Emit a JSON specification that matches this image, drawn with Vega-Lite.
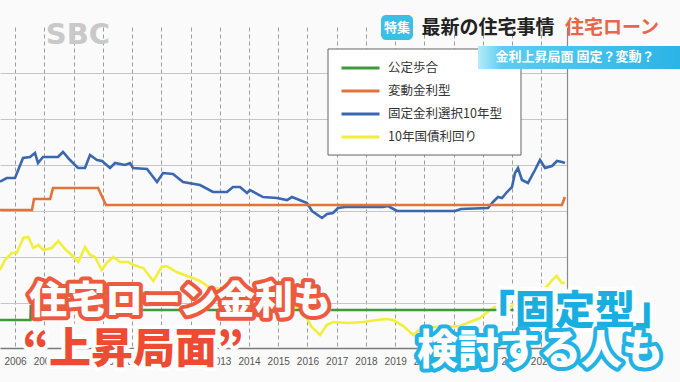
{
  "$schema": "https://vega.github.io/schema/vega-lite/v6.json",
  "width": 567,
  "height": 321,
  "autosize": {"type": "none"},
  "padding": {"left": 0, "top": 27, "right": 113, "bottom": 34},
  "background": "#fafafa",
  "config": {"view": {"stroke": null}},
  "datasets": {
    "rates": [
      {"series": "10年国債利回り", "year": 2005.487, "rate": 1.117},
      {"series": "10年国債利回り", "year": 2005.658, "rate": 1.335},
      {"series": "10年国債利回り", "year": 2005.887, "rate": 1.487},
      {"series": "10年国債利回り", "year": 2006.058, "rate": 1.487},
      {"series": "10年国債利回り", "year": 2006.284, "rate": 1.813},
      {"series": "10年国債利回り", "year": 2006.455, "rate": 1.835},
      {"series": "10年国債利回り", "year": 2006.626, "rate": 1.596},
      {"series": "10年国債利回り", "year": 2006.797, "rate": 1.661},
      {"series": "10年国債利回り", "year": 2006.968, "rate": 1.552},
      {"series": "10年国債利回り", "year": 2007.255, "rate": 1.596},
      {"series": "10年国債利回り", "year": 2007.48, "rate": 1.748},
      {"series": "10年国債利回り", "year": 2007.709, "rate": 1.574},
      {"series": "10年国債利回り", "year": 2007.938, "rate": 1.443},
      {"series": "10年国債利回り", "year": 2008.164, "rate": 1.291},
      {"series": "10年国債利回り", "year": 2008.393, "rate": 1.617},
      {"series": "10年国債利回り", "year": 2008.564, "rate": 1.443},
      {"series": "10年国債利回り", "year": 2008.735, "rate": 1.4},
      {"series": "10年国債利回り", "year": 2008.964, "rate": 1.117},
      {"series": "10年国債利回り", "year": 2009.135, "rate": 1.27},
      {"series": "10年国債利回り", "year": 2009.361, "rate": 1.4},
      {"series": "10年国債利回り", "year": 2009.59, "rate": 1.291},
      {"series": "10年国債利回り", "year": 2009.874, "rate": 1.291},
      {"series": "10年国債利回り", "year": 2010.044, "rate": 1.226},
      {"series": "10年国債利回り", "year": 2010.386, "rate": 1.161},
      {"series": "10年国債利回り", "year": 2010.728, "rate": 0.878},
      {"series": "10年国債利回り", "year": 2011.015, "rate": 1.183},
      {"series": "10年国債利回り", "year": 2011.186, "rate": 1.204},
      {"series": "10年国債利回り", "year": 2011.528, "rate": 1.074},
      {"series": "10年国債利回り", "year": 2011.983, "rate": 0.965},
      {"series": "10年国債利回り", "year": 2012.325, "rate": 0.878},
      {"series": "10年国債利回り", "year": 2012.667, "rate": 0.726},
      {"series": "10年国債利回り", "year": 2012.896, "rate": 0.726},
      {"series": "10年国債利回り", "year": 2013.179, "rate": 0.661},
      {"series": "10年国債利回り", "year": 2013.409, "rate": 0.748},
      {"series": "10年国債利回り", "year": 2013.692, "rate": 0.639},
      {"series": "10年国債利回り", "year": 2014.205, "rate": 0.552},
      {"series": "10年国債利回り", "year": 2014.718, "rate": 0.465},
      {"series": "10年国債利回り", "year": 2015.231, "rate": 0.378},
      {"series": "10年国債利回り", "year": 2015.641, "rate": 0.313},
      {"series": "10年国債利回り", "year": 2015.973, "rate": 0.074},
      {"series": "10年国債利回り", "year": 2016.144, "rate": -0.122},
      {"series": "10年国債利回り", "year": 2016.427, "rate": -0.296},
      {"series": "10年国債利回り", "year": 2016.656, "rate": -0.078},
      {"series": "10年国債利回り", "year": 2016.882, "rate": -0.013},
      {"series": "10年国債利回り", "year": 2017.395, "rate": -0.035},
      {"series": "10年国債利回り", "year": 2017.908, "rate": -0.013},
      {"series": "10年国債利回り", "year": 2018.366, "rate": 0.03},
      {"series": "10年国債利回り", "year": 2018.708, "rate": 0.052},
      {"series": "10年国債利回り", "year": 2018.933, "rate": 0.03},
      {"series": "10年国債利回り", "year": 2019.275, "rate": -0.1},
      {"series": "10年国債利回り", "year": 2019.617, "rate": -0.296},
      {"series": "10年国債利回り", "year": 2019.904, "rate": -0.143},
      {"series": "10年国債利回り", "year": 2020.188, "rate": -0.122},
      {"series": "10年国債利回り", "year": 2020.759, "rate": -0.122},
      {"series": "10年国債利回り", "year": 2021.214, "rate": -0.1},
      {"series": "10年国債利回り", "year": 2021.556, "rate": -0.013},
      {"series": "10年国債利回り", "year": 2021.897, "rate": 0.074},
      {"series": "10年国債利回り", "year": 2022.239, "rate": 0.248},
      {"series": "10年国債利回り", "year": 2022.41, "rate": 0.313},
      {"series": "10年国債利回り", "year": 2022.684, "rate": 0.248},
      {"series": "10年国債利回り", "year": 2022.923, "rate": 0.313},
      {"series": "10年国債利回り", "year": 2023.026, "rate": 0.357},
      {"series": "10年国債利回り", "year": 2023.265, "rate": 0.291},
      {"series": "10年国債利回り", "year": 2023.607, "rate": 0.465},
      {"series": "10年国債利回り", "year": 2023.949, "rate": 0.617},
      {"series": "10年国債利回り", "year": 2024.222, "rate": 0.791},
      {"series": "10年国債利回り", "year": 2024.403, "rate": 0.922},
      {"series": "10年国債利回り", "year": 2024.519, "rate": 0.987},
      {"series": "10年国債利回り", "year": 2024.69, "rate": 0.835},
      {"series": "10年国債利回り", "year": 2024.803, "rate": 0.835},
      {"series": "公定歩合", "year": 2005.487, "rate": 0.03},
      {"series": "公定歩合", "year": 2006.53, "rate": 0.03},
      {"series": "公定歩合", "year": 2006.54, "rate": 0.335},
      {"series": "公定歩合", "year": 2007.14, "rate": 0.335},
      {"series": "公定歩合", "year": 2007.15, "rate": 0.704},
      {"series": "公定歩合", "year": 2008.82, "rate": 0.704},
      {"series": "公定歩合", "year": 2008.83, "rate": 0.465},
      {"series": "公定歩合", "year": 2008.96, "rate": 0.465},
      {"series": "公定歩合", "year": 2008.97, "rate": 0.248},
      {"series": "公定歩合", "year": 2024.803, "rate": 0.248},
      {"series": "固定金利選択10年型", "year": 2005.487, "rate": 3.037},
      {"series": "固定金利選択10年型", "year": 2005.716, "rate": 3.117},
      {"series": "固定金利選択10年型", "year": 2006.0, "rate": 3.117},
      {"series": "固定金利選択10年型", "year": 2006.274, "rate": 3.552},
      {"series": "固定金利選択10年型", "year": 2006.513, "rate": 3.574},
      {"series": "固定金利選択10年型", "year": 2006.684, "rate": 3.661},
      {"series": "固定金利選択10年型", "year": 2006.786, "rate": 3.443},
      {"series": "固定金利選択10年型", "year": 2006.957, "rate": 3.574},
      {"series": "固定金利選択10年型", "year": 2007.47, "rate": 3.574},
      {"series": "固定金利選択10年型", "year": 2007.641, "rate": 3.683},
      {"series": "固定金利選択10年型", "year": 2007.88, "rate": 3.509},
      {"series": "固定金利選択10年型", "year": 2008.154, "rate": 3.335},
      {"series": "固定金利選択10年型", "year": 2008.393, "rate": 3.335},
      {"series": "固定金利選択10年型", "year": 2008.564, "rate": 3.617},
      {"series": "固定金利選択10年型", "year": 2008.803, "rate": 3.509},
      {"series": "固定金利選択10年型", "year": 2008.974, "rate": 3.487},
      {"series": "固定金利選択10年型", "year": 2009.248, "rate": 3.335},
      {"series": "固定金利選択10年型", "year": 2009.419, "rate": 3.443},
      {"series": "固定金利選択10年型", "year": 2009.761, "rate": 3.4},
      {"series": "固定金利選択10年型", "year": 2009.932, "rate": 3.443},
      {"series": "固定金利選択10年型", "year": 2010.034, "rate": 3.335},
      {"series": "固定金利選択10年型", "year": 2010.513, "rate": 3.313},
      {"series": "固定金利選択10年型", "year": 2010.855, "rate": 3.03},
      {"series": "固定金利選択10年型", "year": 2011.06, "rate": 3.226},
      {"series": "固定金利選択10年型", "year": 2011.402, "rate": 3.204},
      {"series": "固定金利選択10年型", "year": 2011.744, "rate": 3.03},
      {"series": "固定金利選択10年型", "year": 2012.325, "rate": 2.965},
      {"series": "固定金利選択10年型", "year": 2012.769, "rate": 2.813},
      {"series": "固定金利選択10年型", "year": 2013.248, "rate": 2.813},
      {"series": "固定金利選択10年型", "year": 2013.453, "rate": 2.922},
      {"series": "固定金利選択10年型", "year": 2013.692, "rate": 2.922},
      {"series": "固定金利選択10年型", "year": 2013.932, "rate": 2.791},
      {"series": "固定金利選択10年型", "year": 2014.034, "rate": 2.857},
      {"series": "固定金利選択10年型", "year": 2014.479, "rate": 2.704},
      {"series": "固定金利選択10年型", "year": 2014.957, "rate": 2.683},
      {"series": "固定金利選択10年型", "year": 2015.299, "rate": 2.639},
      {"series": "固定金利選択10年型", "year": 2015.47, "rate": 2.704},
      {"series": "固定金利選択10年型", "year": 2015.812, "rate": 2.617},
      {"series": "固定金利選択10年型", "year": 2015.983, "rate": 2.574},
      {"series": "固定金利選択10年型", "year": 2016.154, "rate": 2.4},
      {"series": "固定金利選択10年型", "year": 2016.496, "rate": 2.248},
      {"series": "固定金利選択10年型", "year": 2016.667, "rate": 2.335},
      {"series": "固定金利選択10年型", "year": 2016.872, "rate": 2.357},
      {"series": "固定金利選択10年型", "year": 2017.043, "rate": 2.465},
      {"series": "固定金利選択10年型", "year": 2017.282, "rate": 2.487},
      {"series": "固定金利選択10年型", "year": 2018.581, "rate": 2.487},
      {"series": "固定金利選択10年型", "year": 2018.752, "rate": 2.509},
      {"series": "固定金利選択10年型", "year": 2019.06, "rate": 2.4},
      {"series": "固定金利選択10年型", "year": 2021.043, "rate": 2.4},
      {"series": "固定金利選択10年型", "year": 2021.248, "rate": 2.443},
      {"series": "固定金利選択10年型", "year": 2022.171, "rate": 2.465},
      {"series": "固定金利選択10年型", "year": 2022.342, "rate": 2.596},
      {"series": "固定金利選択10年型", "year": 2022.513, "rate": 2.704},
      {"series": "固定金利選択10年型", "year": 2022.65, "rate": 2.683},
      {"series": "固定金利選択10年型", "year": 2022.821, "rate": 2.813},
      {"series": "固定金利選択10年型", "year": 2022.991, "rate": 2.922},
      {"series": "固定金利選択10年型", "year": 2023.094, "rate": 3.226},
      {"series": "固定金利選択10年型", "year": 2023.197, "rate": 3.335},
      {"series": "固定金利選択10年型", "year": 2023.333, "rate": 3.074},
      {"series": "固定金利選択10年型", "year": 2023.538, "rate": 3.009},
      {"series": "固定金利選択10年型", "year": 2023.778, "rate": 3.291},
      {"series": "固定金利選択10年型", "year": 2023.949, "rate": 3.509},
      {"series": "固定金利選択10年型", "year": 2024.12, "rate": 3.335},
      {"series": "固定金利選択10年型", "year": 2024.359, "rate": 3.378},
      {"series": "固定金利選択10年型", "year": 2024.53, "rate": 3.487},
      {"series": "固定金利選択10年型", "year": 2024.701, "rate": 3.465},
      {"series": "固定金利選択10年型", "year": 2024.803, "rate": 3.443},
      {"series": "変動金利型", "year": 2005.487, "rate": 2.422},
      {"series": "変動金利型", "year": 2006.58, "rate": 2.422},
      {"series": "変動金利型", "year": 2006.65, "rate": 2.661},
      {"series": "変動金利型", "year": 2007.2, "rate": 2.661},
      {"series": "変動金利型", "year": 2007.3, "rate": 2.9},
      {"series": "変動金利型", "year": 2008.84, "rate": 2.9},
      {"series": "変動金利型", "year": 2009.11, "rate": 2.53},
      {"series": "変動金利型", "year": 2024.7, "rate": 2.53},
      {"series": "変動金利型", "year": 2024.8, "rate": 2.704}
    ]
  },
  "resolve": {"axis": {"x": "independent", "y": "independent"}},
  "layer": [
    {
      "data": {"name": "rates"},
      "mark": {"type": "line", "strokeWidth": 2.6},
      "encoding": {
        "x": {
          "field": "year", "type": "quantitative",
          "scale": {"domain": [2005.487, 2024.872], "nice": false, "zero": false},
          "axis": {
            "values": [2006, 2007, 2008, 2009, 2010, 2011, 2012, 2013, 2014, 2015, 2016, 2017, 2018, 2019, 2020, 2021, 2022, 2023, 2024],
            "format": "d", "title": null, "grid": true, "gridDash": [4, 3], "gridColor": "#9c9c9c", "gridWidth": 1,
            "ticks": false, "domain": true, "domainColor": "#7a7a7a", "domainWidth": 1.5,
            "labelFont": "Liberation Sans", "labelFontSize": 10, "labelColor": "#555555", "labelPadding": 8, "labelFlush": false
          }
        },
        "y": {
          "field": "rate", "type": "quantitative",
          "scale": {"domain": [-0.578, 6.4], "nice": false, "zero": false},
          "axis": {"orient": "left", "values": [0.4, 1.4, 2.4, 3.4, 4.4, 5.4], "title": null, "labels": false, "ticks": false, "domain": false, "grid": true, "gridColor": "#c6c6c6", "gridWidth": 1}
        },
        "color": {
          "field": "series", "type": "nominal",
          "scale": {"domain": ["公定歩合", "変動金利型", "固定金利選択10年型", "10年国債利回り"], "range": ["#3f9a3c", "#e2743a", "#3a67b0", "#f2ef3c"]},
          "legend": {
            "orient": "none", "legendX": 328, "legendY": 22, "title": null,
            "symbolType": "stroke", "symbolSize": 1444, "symbolStrokeWidth": 3, "clipHeight": 14,
            "rowPadding": 9, "padding": 12, "labelOffset": 7, "labelLimit": 300,
            "labelFont": "Noto Sans CJK JP", "labelFontSize": 12.5, "labelColor": "#333333",
            "strokeColor": null, "fillColor": null
          }
        }
      }
    },
    {
      "data": {"values": [{"part": "legend box", "year": 2016.701, "year2": 2023.299, "value": 5.922, "value2": 3.617}]},
      "mark": {"type": "rect", "fill": "#ffffff", "stroke": "#666666", "strokeWidth": 1},
      "encoding": {
        "x": {"field": "year", "type": "quantitative", "scale": {"domain": [2005.487, 2024.872], "nice": false, "zero": false}, "axis": null},
        "x2": {"field": "year2"},
        "y": {"field": "value", "type": "quantitative", "scale": {"domain": [-0.578, 6.4], "nice": false, "zero": false},
              "axis": {"orient": "right", "title": null, "labels": false, "ticks": false, "grid": false, "domain": true, "domainColor": "#8a8a8a", "domainWidth": 1.2}},
        "y2": {"field": "value2"}
      }
    },
    {
      "data": {"values": [{"part": "subtitle banner", "year": 2021.829, "year2": 2028.735, "value": 5.987, "value2": 5.487}]},
      "mark": {"type": "rect", "color": {"gradient": "linear", "stops": [{"offset": 0, "color": "#b4ecfa"}, {"offset": 0.12, "color": "#5ccdf0"}, {"offset": 1, "color": "#2ab4e6"}]}},
      "encoding": {
        "x": {"field": "year", "type": "quantitative", "scale": {"domain": [2005.487, 2024.872], "nice": false, "zero": false}, "axis": null},
        "x2": {"field": "year2"},
        "y": {"field": "value", "type": "quantitative", "scale": {"domain": [-0.578, 6.4], "nice": false, "zero": false}, "axis": null},
        "y2": {"field": "value2"}
      }
    },
    {
      "data": {"values": [{"part": "tokushu box", "year": 2018.513, "year2": 2019.607, "value": 6.661, "value2": 6.117}]},
      "mark": {"type": "rect", "cornerRadius": 5, "color": "#3cbfe4"},
      "encoding": {
        "x": {"field": "year", "type": "quantitative", "scale": {"domain": [2005.487, 2024.872], "nice": false, "zero": false}, "axis": null},
        "x2": {"field": "year2"},
        "y": {"field": "value", "type": "quantitative", "scale": {"domain": [-0.578, 6.4], "nice": false, "zero": false}, "axis": null},
        "y2": {"field": "value2"}
      }
    },
    {
      "data": {"values": [
        {"label": "特集", "year": 2019.06, "value": 6.389},
        {"label": "金利上昇局面 固定？変動？", "year": 2025.145, "value": 5.737}
      ]},
      "mark": {"type": "text", "font": "Noto Sans CJK JP", "fontSize": 13, "fontWeight": "bold", "fill": "#ffffff", "align": "center", "baseline": "middle"},
      "encoding": {
        "x": {"field": "year", "type": "quantitative", "scale": {"domain": [2005.487, 2024.872], "nice": false, "zero": false}, "axis": null},
        "y": {"field": "value", "type": "quantitative", "scale": {"domain": [-0.578, 6.4], "nice": false, "zero": false}, "axis": null},
        "text": {"field": "label"}
      }
    },
    {
      "data": {"values": [{"label": "最新の住宅事情", "year": 2022.171, "value": 6.378}]},
      "mark": {"type": "text", "font": "Noto Sans CJK JP", "fontSize": 19, "fontWeight": "bold", "fill": "#222222", "align": "center", "baseline": "middle"},
      "encoding": {
        "x": {"field": "year", "type": "quantitative", "scale": {"domain": [2005.487, 2024.872], "nice": false, "zero": false}, "axis": null},
        "y": {"field": "value", "type": "quantitative", "scale": {"domain": [-0.578, 6.4], "nice": false, "zero": false}, "axis": null},
        "text": {"field": "label"}
      }
    },
    {
      "data": {"values": [{"label": "住宅ローン", "year": 2026.41, "value": 6.378}]},
      "mark": {"type": "text", "font": "Noto Sans CJK JP", "fontSize": 19, "fontWeight": "bold", "fill": "#e8664c", "align": "center", "baseline": "middle"},
      "encoding": {
        "x": {"field": "year", "type": "quantitative", "scale": {"domain": [2005.487, 2024.872], "nice": false, "zero": false}, "axis": null},
        "y": {"field": "value", "type": "quantitative", "scale": {"domain": [-0.578, 6.4], "nice": false, "zero": false}, "axis": null},
        "text": {"field": "label"}
      }
    },
    {
      "data": {"values": [{"label": "SBC", "year": 2008.154, "value": 6.226}]},
      "mark": {"type": "text", "font": "DejaVu Sans", "fontSize": 29, "fontWeight": "bold", "fill": "#c9c9c9", "align": "center", "baseline": "middle"},
      "encoding": {
        "x": {"field": "year", "type": "quantitative", "scale": {"domain": [2005.487, 2024.872], "nice": false, "zero": false}, "axis": null},
        "y": {"field": "value", "type": "quantitative", "scale": {"domain": [-0.578, 6.4], "nice": false, "zero": false}, "axis": null},
        "text": {"field": "label"}
      }
    },
    {
      "data": {"values": [{"label": "住宅ローン金利も", "year": 2011.641, "value": 0.422}]},
      "mark": {"type": "text", "font": "Noto Sans CJK JP", "fontSize": 38, "fontWeight": 900, "fill": "#ec5a40", "stroke": "#ec5a40", "strokeWidth": 8, "strokeJoin": "round", "align": "center", "baseline": "middle"},
      "encoding": {
        "x": {"field": "year", "type": "quantitative", "scale": {"domain": [2005.487, 2024.872], "nice": false, "zero": false}, "axis": null},
        "y": {"field": "value", "type": "quantitative", "scale": {"domain": [-0.578, 6.4], "nice": false, "zero": false}, "axis": null},
        "text": {"field": "label"}
      }
    },
    {
      "data": {"values": [{"label": "住宅ローン金利も", "year": 2011.641, "value": 0.422}]},
      "mark": {"type": "text", "font": "Noto Sans CJK JP", "fontSize": 38, "fontWeight": 900, "fill": "#ffffff", "align": "center", "baseline": "middle"},
      "encoding": {
        "x": {"field": "year", "type": "quantitative", "scale": {"domain": [2005.487, 2024.872], "nice": false, "zero": false}, "axis": null},
        "y": {"field": "value", "type": "quantitative", "scale": {"domain": [-0.578, 6.4], "nice": false, "zero": false}, "axis": null},
        "text": {"field": "label"}
      }
    },
    {
      "data": {"values": [{"label": "“上昇局面”", "year": 2010.034, "value": -0.622}]},
      "mark": {"type": "text", "font": "Noto Sans CJK JP", "fontSize": 42, "fontWeight": 900, "fill": "#ffffff", "stroke": "#ffffff", "strokeWidth": 8, "strokeJoin": "round", "align": "center", "baseline": "middle"},
      "encoding": {
        "x": {"field": "year", "type": "quantitative", "scale": {"domain": [2005.487, 2024.872], "nice": false, "zero": false}, "axis": null},
        "y": {"field": "value", "type": "quantitative", "scale": {"domain": [-0.578, 6.4], "nice": false, "zero": false}, "axis": null},
        "text": {"field": "label"}
      }
    },
    {
      "data": {"values": [{"label": "“上昇局面”", "year": 2010.034, "value": -0.622}]},
      "mark": {"type": "text", "font": "Noto Sans CJK JP", "fontSize": 42, "fontWeight": 900, "fill": "#ee4b34", "align": "center", "baseline": "middle"},
      "encoding": {
        "x": {"field": "year", "type": "quantitative", "scale": {"domain": [2005.487, 2024.872], "nice": false, "zero": false}, "axis": null},
        "y": {"field": "value", "type": "quantitative", "scale": {"domain": [-0.578, 6.4], "nice": false, "zero": false}, "axis": null},
        "text": {"field": "label"}
      }
    },
    {
      "data": {"values": [{"label": "「固定型」", "year": 2025.145, "value": 0.204}]},
      "mark": {"type": "text", "font": "Noto Sans CJK JP", "fontSize": 40, "fontWeight": 900, "fill": "#ffffff", "stroke": "#ffffff", "strokeWidth": 8, "strokeJoin": "round", "align": "center", "baseline": "middle"},
      "encoding": {
        "x": {"field": "year", "type": "quantitative", "scale": {"domain": [2005.487, 2024.872], "nice": false, "zero": false}, "axis": null},
        "y": {"field": "value", "type": "quantitative", "scale": {"domain": [-0.578, 6.4], "nice": false, "zero": false}, "axis": null},
        "text": {"field": "label"}
      }
    },
    {
      "data": {"values": [{"label": "「固定型」", "year": 2025.145, "value": 0.204}]},
      "mark": {"type": "text", "font": "Noto Sans CJK JP", "fontSize": 40, "fontWeight": 900, "fill": "#19aee0", "align": "center", "baseline": "middle"},
      "encoding": {
        "x": {"field": "year", "type": "quantitative", "scale": {"domain": [2005.487, 2024.872], "nice": false, "zero": false}, "axis": null},
        "y": {"field": "value", "type": "quantitative", "scale": {"domain": [-0.578, 6.4], "nice": false, "zero": false}, "axis": null},
        "text": {"field": "label"}
      }
    },
    {
      "data": {"values": [{"label": "検討する人も", "year": 2023.949, "value": -0.665}]},
      "mark": {"type": "text", "font": "Noto Sans CJK JP", "fontSize": 41, "fontWeight": 900, "fill": "#22b2e4", "stroke": "#22b2e4", "strokeWidth": 8, "strokeJoin": "round", "align": "center", "baseline": "middle"},
      "encoding": {
        "x": {"field": "year", "type": "quantitative", "scale": {"domain": [2005.487, 2024.872], "nice": false, "zero": false}, "axis": null},
        "y": {"field": "value", "type": "quantitative", "scale": {"domain": [-0.578, 6.4], "nice": false, "zero": false}, "axis": null},
        "text": {"field": "label"}
      }
    },
    {
      "data": {"values": [{"label": "検討する人も", "year": 2023.949, "value": -0.665}]},
      "mark": {"type": "text", "font": "Noto Sans CJK JP", "fontSize": 41, "fontWeight": 900, "fill": "#ffffff", "align": "center", "baseline": "middle"},
      "encoding": {
        "x": {"field": "year", "type": "quantitative", "scale": {"domain": [2005.487, 2024.872], "nice": false, "zero": false}, "axis": null},
        "y": {"field": "value", "type": "quantitative", "scale": {"domain": [-0.578, 6.4], "nice": false, "zero": false}, "axis": null},
        "text": {"field": "label"}
      }
    }
  ]
}
